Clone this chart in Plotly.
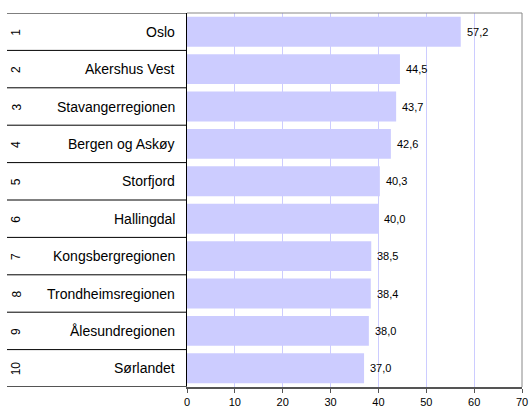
import plotly.graph_objects as go

ranks = ["1", "2", "3", "4", "5", "6", "7", "8", "9", "10"]
regions = ["Oslo", "Akershus Vest", "Stavangerregionen", "Bergen og Askøy", "Storfjord",
           "Hallingdal", "Kongsbergregionen", "Trondheimsregionen", "Ålesundregionen", "Sørlandet"]
values = [57.2, 44.5, 43.7, 42.6, 40.3, 40.0, 38.5, 38.4, 38.0, 37.0]
x_ticks = [0, 10, 20, 30, 40, 50, 60, 70]

W, H = 529, 408
L, R, T, B = 187, 7, 13, 21
pw = W - L - R

def px_to_paper(px):
    return (px - L) / pw

pos = list(range(len(values)))
labels = [f"{v:.1f}".replace(".", ",") for v in values]
FONT = "Liberation Sans, Arial, sans-serif"

fig = go.Figure()
fig.add_trace(go.Bar(
    x=values, y=pos, orientation="h",
    marker=dict(color="#ccccff", line=dict(width=0)),
    hoverinfo="skip",
))

annotations = []
for i, (v, lab) in enumerate(zip(values, labels)):
    annotations.append(dict(x=v, xref="x", y=i, yref="y", text=lab, showarrow=False,
                            xanchor="left", yanchor="middle", xshift=4,
                            font=dict(family=FONT, size=11, color="#000")))
for i, (rk, name) in enumerate(zip(ranks, regions)):
    annotations.append(dict(x=px_to_paper(177), xref="paper", y=i, yref="y", text=name,
                            showarrow=False, xanchor="right", yanchor="middle",
                            font=dict(family=FONT, size=14, color="#000")))
    annotations.append(dict(x=px_to_paper(16), xref="paper", y=i, yref="y", text=rk,
                            showarrow=False, xanchor="center", yanchor="middle", textangle=-90,
                            font=dict(family=FONT, size=12, color="#000")))

shapes = []
for k in range(len(values) + 1):
    yv = k - 0.5
    last = k == len(values)
    shapes.append(dict(type="line", xref="paper", yref="y", x0=px_to_paper(7), x1=0,
                       y0=yv, y1=yv,
                       line=dict(color="#555555" if last else "#000000", width=2 if last else 1)))
shapes.append(dict(type="line", xref="paper", yref="paper", x0=0, x1=1, y0=1, y1=1,
                   line=dict(color="#888888", width=1)))
shapes.append(dict(type="line", xref="paper", yref="paper", x0=1, x1=1, y0=0, y1=1,
                   line=dict(color="#888888", width=1)))

fig.update_layout(
    width=W, height=H,
    margin=dict(l=L, r=R, t=T, b=B, autoexpand=False),
    paper_bgcolor="white", plot_bgcolor="white",
    showlegend=False, bargap=0.2,
    annotations=annotations, shapes=shapes,
    xaxis=dict(range=[0, 70], tickvals=x_ticks, ticktext=[str(t) for t in x_ticks],
               automargin=False,
               showgrid=True, gridcolor="#ccccff", gridwidth=1, zeroline=False,
               showline=True, linecolor="#555555", linewidth=2,
               ticks="outside", ticklen=4, tickcolor="#555555",
               ticklabelstandoff=0,
               tickfont=dict(family=FONT, size=11, color="#000")),
    yaxis=dict(range=[9.5, -0.5], showticklabels=False, showgrid=False, zeroline=False,
               automargin=False,
               showline=True, linecolor="#000000", linewidth=1, ticks=""),
    font=dict(family=FONT),
)

fig.write_html("out.html", config={"displayModeBar": False},
               post_script="document.body.style.margin='0';document.body.style.overflow='hidden';")
